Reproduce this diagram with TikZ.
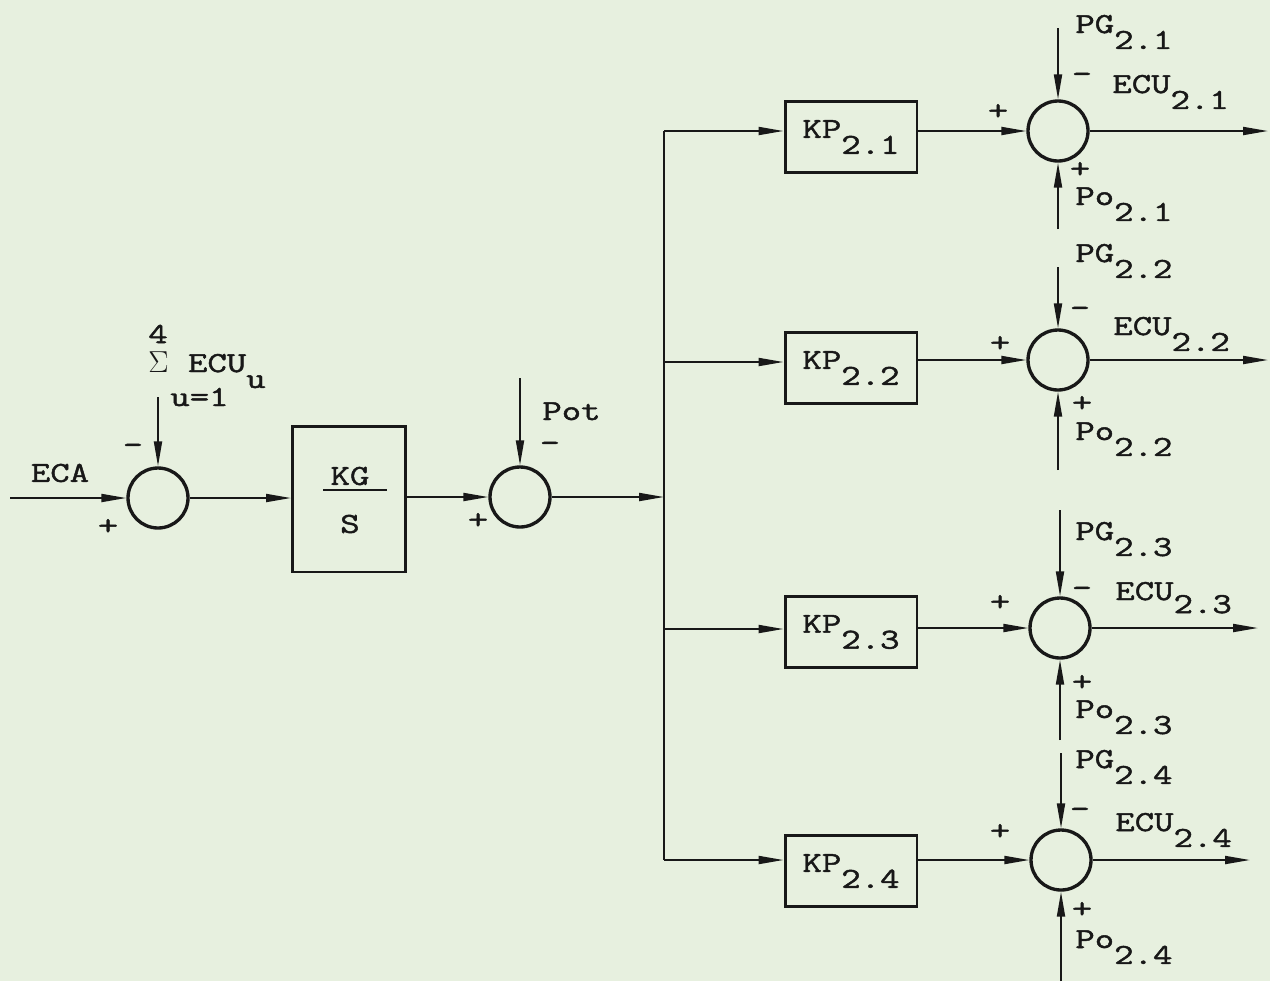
\documentclass[tikz,border=0pt]{standalone}
\usepackage{fontspec}
\setmainfont{lmmono12-regular.otf}[FakeBold=1.6, FakeStretch=1.3]
\usepackage{tikz}
\usetikzlibrary{arrows.meta}

\definecolor{paper}{RGB}{231,240,223}
\definecolor{ink}{RGB}{24,24,24}
% subscripts are typed as lowered characters of the same size
\newcommand{\low}[2][0.55em]{\raisebox{-#1}{#2}}

\begin{document}
\begin{tikzpicture}[
    x=0.02cm, y=-0.02cm,
    every node/.style = {font=\fontsize{16.5}{19}\selectfont, text=ink},
    sum_node/.style = {draw=ink, circle, line width=1.9pt, minimum size=1.2cm, inner sep=0pt},
    gain_box/.style = {draw=ink, rectangle, line width=1.7pt, minimum width=2.64cm, minimum height=1.42cm, inner sep=0pt},
    label_txt/.style = {inner sep=0pt, anchor=base west},
    sign_mark/.style = {inner sep=0pt, font=\fontsize{17}{19}\selectfont},
    sig_line/.style = {line width=1.1pt, draw=ink},
    sig_arrow/.style = {sig_line, -{Triangle[length=5mm, width=1.6mm]}}
]
\fill[paper] (0,0) rectangle (1270,981);
\useasboundingbox (0,0) rectangle (1270,981);

% --- Entrada ECA e primeiro somador ---
\coordinate (eca_in) at (10,498);
\node[sum_node] (s_eca) at (158,498) {};
\node (eca_lbl) at (60,473) {ECA};
\node[sign_mark] (p_eca) at (108,527) {+};
\node[sign_mark] (m_eca) at (133,449) {-};
\coordinate (ecu_in) at (158,397);
\node (sum_top) at (158,334) {4};
\node[label_txt] (sum_mid) at (148,372) {$\Sigma$ ECU\low{u}};
\node[label_txt] (sum_bot) at (170,406) {u=1};
\draw[sig_arrow] (eca_in) -- (s_eca.west);
\draw[sig_arrow] (ecu_in) -- (s_eca.north);

% --- Integrador KG/S ---
\node[gain_box, minimum width=2.26cm, minimum height=2.92cm] (kg) at (349,499) {};
\node (kg_num) at (350,476) {KG};
\node (kg_den) at (350,524) {S};
\draw[line width=1.3pt, draw=ink] (323,490) -- (387,490);
\draw[sig_arrow] (s_eca.east) -- (kg.west |- s_eca.east);

% --- Somador Pot ---
\node[sum_node] (s_pot) at (520,497) {};
\coordinate (pot_in) at (520,378);
\node[label_txt] (pot_lbl) at (542,420) {Pot};
\node[sign_mark] (m_pot) at (550,447) {-};
\node[sign_mark] (p_pot) at (478,521) {+};
\draw[sig_arrow] (kg.east |- s_pot) -- (s_pot.west);
\draw[sig_arrow] (pot_in) -- (s_pot.north);

% --- Barramento de distribuicao ---
\coordinate (b1) at (664,131);
\coordinate (b2) at (664,362);
\coordinate (b3) at (664,629);
\coordinate (b4) at (664,860);
\draw[sig_line] (b1) -- (b4);
\draw[sig_arrow] (s_pot.east) -- (s_pot.east -| b1);

% --- Usina 2.1 ---
\node[gain_box] (kp1) at (851,137) {KP\low{2.1}};
\node[sum_node] (s1) at (1058,131) {};
\coordinate (pg1_in) at (1058,28);
\coordinate (po1_in) at (1058,229);
\coordinate (ecu1_out) at (1268,131);
\node[label_txt] (pg1_lbl) at (1075,33) {PG\low{2.1}};
\node[label_txt] (ecu1_lbl) at (1112,93) {ECU\low{2.1}};
\node[label_txt] (po1_lbl) at (1075,205) {Po\low{2.1}};
\node[sign_mark] (m1) at (1082,78) {-};
\node[sign_mark] (p1a) at (998,112) {+};
\node[sign_mark] (p1b) at (1080,170) {+};
\draw[sig_arrow] (b1) -- (b1 -| kp1.west);
\draw[sig_arrow] (kp1.east |- s1) -- (s1.west);
\draw[sig_arrow] (pg1_in) -- (s1.north);
\draw[sig_arrow] (po1_in) -- (s1.south);
\draw[sig_arrow] (s1.east) -- (ecu1_out);

% --- Usina 2.2 ---
\node[gain_box] (kp2) at (851,368) {KP\low{2.2}};
\node[sum_node] (s2) at (1058,360) {};
\coordinate (pg2_in) at (1058,267);
\coordinate (po2_in) at (1058,470);
\coordinate (ecu2_out) at (1268,360);
\node[label_txt] (pg2_lbl) at (1075,262) {PG\low{2.2}};
\node[label_txt] (ecu2_lbl) at (1113,335) {ECU\low{2.2}};
\node[label_txt] (po2_lbl) at (1075,440) {Po\low{2.2}};
\node[sign_mark] (m2) at (1080,312) {-};
\node[sign_mark] (p2a) at (1000,344) {+};
\node[sign_mark] (p2b) at (1082,404) {+};
\draw[sig_arrow] (b2) -- (b2 -| kp2.west);
\draw[sig_arrow] (kp2.east |- s2) -- (s2.west);
\draw[sig_arrow] (pg2_in) -- (s2.north);
\draw[sig_arrow] (po2_in) -- (s2.south);
\draw[sig_arrow] (s2.east) -- (ecu2_out);

% --- Usina 2.3 ---
\node[gain_box] (kp3) at (851,632) {KP\low{2.3}};
\node[sum_node] (s3) at (1060,628) {};
\coordinate (pg3_in) at (1060,510);
\coordinate (po3_in) at (1060,740);
\coordinate (ecu3_out) at (1258,628);
\node[label_txt] (pg3_lbl) at (1075,540) {PG\low{2.3}};
\node[label_txt] (ecu3_lbl) at (1115,600) {ECU\low[0.45em]{2.3}};
\node[label_txt] (po3_lbl) at (1075,718) {Po\low{2.3}};
\node[sign_mark] (m3) at (1082,592) {-};
\node[sign_mark] (p3a) at (1000,603) {+};
\node[sign_mark] (p3b) at (1082,683) {+};
\draw[sig_arrow] (b3) -- (b3 -| kp3.west);
\draw[sig_arrow] (kp3.east |- s3) -- (s3.west);
\draw[sig_arrow] (pg3_in) -- (s3.north);
\draw[sig_arrow] (po3_in) -- (s3.south);
\draw[sig_arrow] (s3.east) -- (ecu3_out);

% --- Usina 2.4 ---
\node[gain_box] (kp4) at (851,871) {KP\low{2.4}};
\node[sum_node] (s4) at (1061,860) {};
\coordinate (pg4_in) at (1061,753);
\coordinate (po4_in) at (1061,981);
\coordinate (ecu4_out) at (1250,860);
\node[label_txt] (pg4_lbl) at (1075,768) {PG\low{2.4}};
\node[label_txt] (ecu4_lbl) at (1115,831) {ECU\low{2.4}};
\node[label_txt] (po4_lbl) at (1075,948) {Po\low{2.4}};
\node[sign_mark] (m4) at (1080,813) {-};
\node[sign_mark] (p4a) at (1000,832) {+};
\node[sign_mark] (p4b) at (1082,910) {+};
\draw[sig_arrow] (b4) -- (b4 -| kp4.west);
\draw[sig_arrow] (kp4.east |- s4) -- (s4.west);
\draw[sig_arrow] (pg4_in) -- (s4.north);
\draw[sig_arrow] (po4_in) -- (s4.south);
\draw[sig_arrow] (s4.east) -- (ecu4_out);

\end{tikzpicture}
\end{document}
